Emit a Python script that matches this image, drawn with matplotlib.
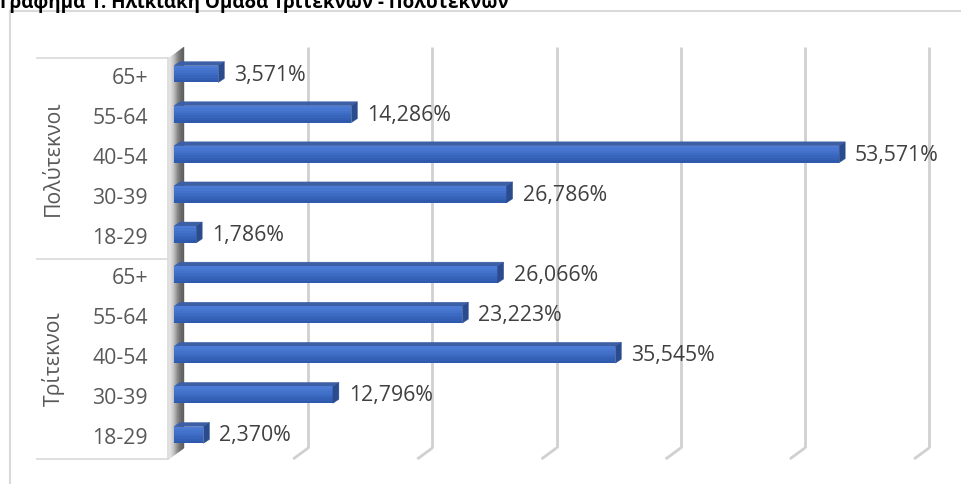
import matplotlib
matplotlib.use("Agg")
import matplotlib.pyplot as plt
from matplotlib.patches import Polygon
from matplotlib.lines import Line2D
import numpy as np

plt.rcParams['font.family'] = ['Open Sans', 'DejaVu Sans']

title = "Γράφημα 1: Ηλικιακή Ομάδα Τριτέκνων - Πολυτέκνων"
age_groups = ["18-29", "30-39", "40-54", "55-64", "65+"]
groups = ["Τρίτεκνοι", "Πολύτεκνοι"]
tritekni = [2.370, 12.796, 35.545, 23.223, 26.066]
polytekni = [1.786, 26.786, 53.571, 14.286, 3.571]
grid_ticks = [10, 20, 30, 40, 50, 60]

values = tritekni + polytekni
rows = np.arange(len(values))

W, H = 962, 484
fig = plt.figure(figsize=(W / 100, H / 100), dpi=100)

# plot area in pixels (front face of bars)
x0_px, x1_px = 174, 919
y_top_px, y_bot_px = 54, 455
ax = fig.add_axes([x0_px / W, 1 - y_bot_px / H,
                   (x1_px - x0_px) / W, (y_bot_px - y_top_px) / H])
ax.set_xlim(0, 60)
ax.set_ylim(-0.5, 9.5)
ax.axis('off')

PX = 60 / (x1_px - x0_px)          # data units per pixel (x)
PY = 10 / (y_bot_px - y_top_px)    # data units per pixel (y)

# 3d offsets (pixels): front plane, back wall, bar depth
fx, fy = -5 * PX, -4 * PY
bx, by = 10 * PX, 7 * PY
ddx, ddy = 6 * PX, 4 * PY

ymin, ymax = -0.5, 9.5

# gridlines on back wall + floor feet
grid_col = '#d0d0d0'
for g in grid_ticks:
    ax.plot([g + bx, g + bx], [ymin + by, ymax + by], color=grid_col, lw=2,
            solid_capstyle='butt', clip_on=False, zorder=1)
    ax.plot([g + fx, g + bx], [ymin + fy, ymin + by], color=grid_col, lw=2,
            solid_capstyle='butt', clip_on=False, zorder=1)

# side wall with shading
wall_cols = ['#e2e2e2', '#d6d6d6', '#c4c4c4', '#a8a8a8', '#8a8a8a',
             '#747474', '#666666', '#5e5e5e']
n = len(wall_cols)
for k, c in enumerate(wall_cols):
    t0, t1 = k / n, (k + 1) / n
    xa, ya = fx + t0 * (bx - fx), fy + t0 * (by - fy)
    xb, yb = fx + t1 * (bx - fx), fy + t1 * (by - fy)
    ax.add_patch(Polygon([(xa, ymin + ya), (xb, ymin + yb), (xb, ymax + yb),
                          (xa, ymax + ya)], closed=True, facecolor=c,
                         edgecolor=c, lw=0.3, clip_on=False, zorder=2))

# bars: darkest full bar, then lighter upper parts on top (smooth gradient)
h = 0.42
band_cols = ['#2f59ad', '#335fb5', '#3865bc', '#3d6bc3', '#4271ca',
             '#4776d0', '#4b7bd5']
nb = len(band_cols)
for i, v in zip(rows, values):
    for k, c in enumerate(band_cols):
        hk = h * (nb - k) / nb
        ax.barh(i + h / 2 - hk / 2, v, height=hk, left=0,
                color=c, lw=0, zorder=4 + k * 0.01, clip_on=False)
    top = [(0, i + h / 2), (v, i + h / 2), (v + ddx, i + h / 2 + ddy),
           (ddx, i + h / 2 + ddy)]
    ax.add_patch(Polygon(top, closed=True, facecolor='#3d5fa6',
                         edgecolor='#3d5fa6', lw=0.3, zorder=3, clip_on=False))
    side = [(v, i - h / 2), (v + ddx, i - h / 2 + ddy),
            (v + ddx, i + h / 2 + ddy), (v, i + h / 2)]
    ax.add_patch(Polygon(side, closed=True, facecolor='#2a4b8d',
                         edgecolor='#2a4b8d', lw=0.3, zorder=5, clip_on=False))
    ax.text(v + ddx + 10 * PX, i - 1 * PY, f"{v:.3f}%".replace('.', ','),
            ha='left', va='center', fontsize=15.3, color='#404040',
            zorder=6, clip_on=False)

# category axis labels
lab_col = '#595959'
for i, lab in zip(rows, age_groups * 2):
    ax.text(-26 * PX, i - 4 * PY, lab, ha='right', va='center',
            fontsize=15.3, color=lab_col, clip_on=False)
for gi, g in enumerate(groups):
    ax.text((53 - x0_px) * PX, gi * 5 + 2 - 4 * PY, g, rotation=90,
            ha='center', va='center', fontsize=15.3, color=lab_col,
            clip_on=False)

line_col = '#d9d9d9'
lx0, lx1 = (37 - x0_px) * PX, (168 - x0_px) * PX
for yb in [9.5, 4.5, -0.5]:
    ax.plot([lx0, lx1], [yb - 4 * PY, yb - 4 * PY], color=line_col, lw=1.2,
            clip_on=False)
ax.plot([lx1, lx1], [9.5 - 4 * PY, -0.5 - 4 * PY], color=line_col, lw=1.2,
        clip_on=False)

# chart border (only top and left visible)
fig.add_artist(Line2D([10 / W, 1], [1 - 11 / H, 1 - 11 / H],
                      color=line_col, lw=1.5, transform=fig.transFigure))
fig.add_artist(Line2D([10 / W, 10 / W], [0, 1 - 11 / H],
                      color=line_col, lw=1.5, transform=fig.transFigure))

# title sits partly above the top edge, as in the source image
fig.text(0.0, 1 - 8 / H, title, fontsize=13.5, fontweight='bold',
         ha='left', va='baseline', color='#000000')

fig.savefig('out.png', dpi=100)
